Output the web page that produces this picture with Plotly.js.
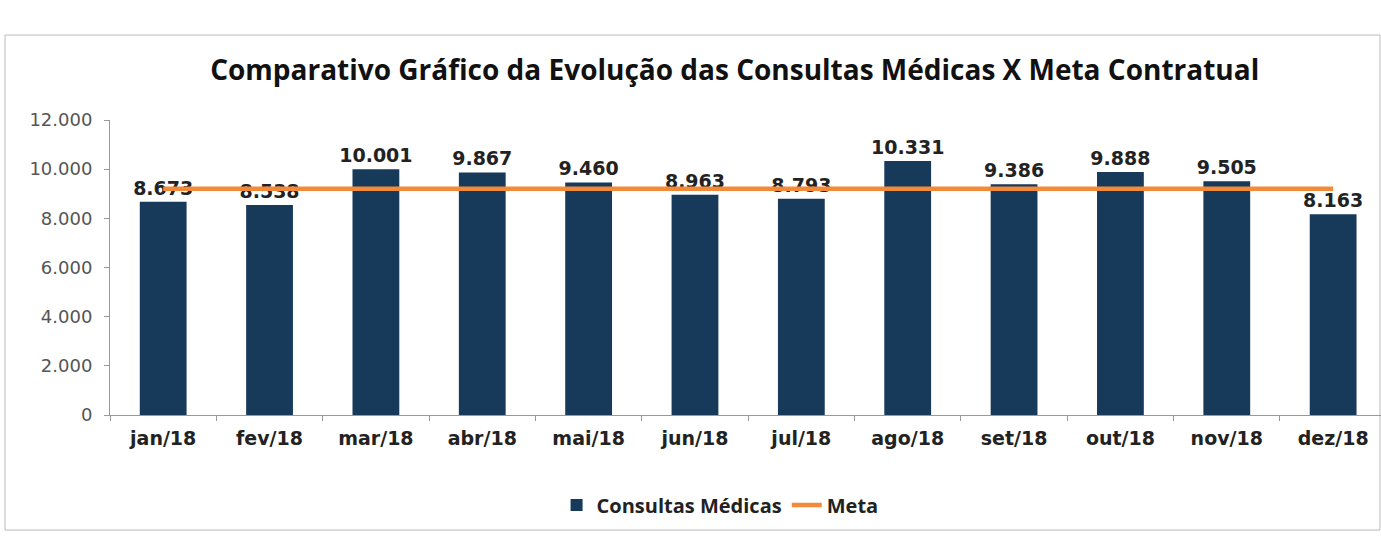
<!DOCTYPE html>
<html><head><meta charset="utf-8">
<script src="https://cdn.plot.ly/plotly-3.0.1.min.js"></script>
<style>html,body{margin:0;padding:0;background:#fff;}#chart{width:1381px;height:536px;}</style>
</head><body><div id="chart"></div>
<script>
const categories = ['jan/18','fev/18','mar/18','abr/18','mai/18','jun/18','jul/18','ago/18','set/18','out/18','nov/18','dez/18'];
const consultas = [8673, 8538, 10001, 9867, 9460, 8963, 8793, 10331, 9386, 9888, 9505, 8163];
const meta = [9200, 9200, 9200, 9200, 9200, 9200, 9200, 9200, 9200, 9200, 9200, 9200];
const yTicks = [0, 2000, 4000, 6000, 8000, 10000, 12000];

const vfont = "'DejaVu Sans', Verdana, sans-serif";
const cfont = "'Open Sans', sans-serif";
const traces = [
  {type:'bar', name:'Consultas Médicas', x:categories, y:consultas,
   marker:{color:'#17395a'}, width:0.44,
   text: consultas, texttemplate:'%{y:,.0f}', textposition:'outside', constraintext:'none',
   textfont:{family:vfont, size:19, color:'#222', weight:'bold'}, cliponaxis:false},
  {type:'scatter', mode:'lines', name:'Meta', x:categories, y:meta,
   line:{color:'#f28a3a', width:4.5}}
];
const layout = {
  width:1381, height:536,
  margin:{l:110, r:0, t:120, b:121},
  separators:',.',
  paper_bgcolor:'#fff', plot_bgcolor:'#fff',
  title:{text:'<b>Comparativo Gráfico da Evolução das Consultas Médicas X Meta Contratual</b>',
    x:0.532, xanchor:'center', y:0.869, yanchor:'middle', yref:'container',
    font:{family:cfont, size:28, color:'#111'}},
  xaxis:{type:'category', range:[-0.5, 11.45], showline:true, linecolor:'#999', linewidth:1,
    ticks:'outside', tickson:'boundaries', ticklen:5, tickcolor:'#999', ticklabelstandoff:6,
    tickfont:{family:vfont, size:19, color:'#222', weight:'bold'}, showgrid:false},
  yaxis:{range:[0, 12000], tickvals:yTicks, tickformat:',.0f', showline:true, linecolor:'#999',
    ticks:'outside', ticklen:5, tickcolor:'#999', showgrid:false, zeroline:false, ticklabelstandoff:8,
    tickfont:{family:vfont, size:18, color:'#555'}},
  showlegend:true,
  legend:{orientation:'h', x:0.48, xanchor:'center', y:-0.305, yanchor:'middle',
    font:{family:cfont, size:20, color:'#222', weight:'bold'}, traceorder:'normal'},
  shapes:[{type:'rect', xref:'paper', yref:'paper', x0:-0.0826, x1:0.9992, y0:-0.39, y1:1.288,
    line:{color:'#bbb', width:1}, fillcolor:'rgba(0,0,0,0)', layer:'below'}]
};
Plotly.newPlot('chart', traces, layout, {displayModeBar:false, staticPlot:true});
</script></body></html>
